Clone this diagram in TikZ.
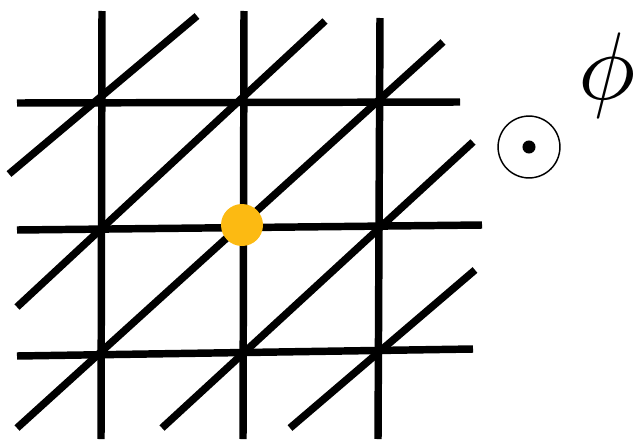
\documentclass[tikz,border=0pt]{standalone}
\begin{document}
\begin{tikzpicture}[x=0.75pt,y=-0.75pt,
  gridline/.style={line width=5.6pt,line cap=butt},
  thinring/.style={line width=1.1pt}]
\definecolor{dotyellow}{RGB}{252,186,18}
\useasboundingbox (0,0) rectangle (635,439);
% vertical lines
\draw[gridline] (102,11) -- (101,439);
\draw[gridline] (244,11) -- (243,439);
\draw[gridline] (380,18) -- (378,439);
% horizontal lines
\draw[gridline] (17,103) -- (460,102);
\draw[gridline] (17,230) -- (482,225);
\draw[gridline] (17,356) -- (473,349);
% diagonals
\draw[gridline] (9,174) -- (197,16);
\draw[gridline] (17,307) -- (325,21);
\draw[gridline] (17,428) -- (443,42);
\draw[gridline] (162,428) -- (473,142);
\draw[gridline] (290,428) -- (475,270);
% yellow site
\fill[dotyellow] (242,225) circle[radius=15.75pt];
% out-of-plane symbol
\draw[thinring] (529,147) circle[radius=23.2pt];
\fill (529,147) circle[radius=4.9pt];
% phi label
\node[inner sep=0pt,scale=7.2] (phi) at (607,75) {$\phi$};
\end{tikzpicture}
\end{document}
